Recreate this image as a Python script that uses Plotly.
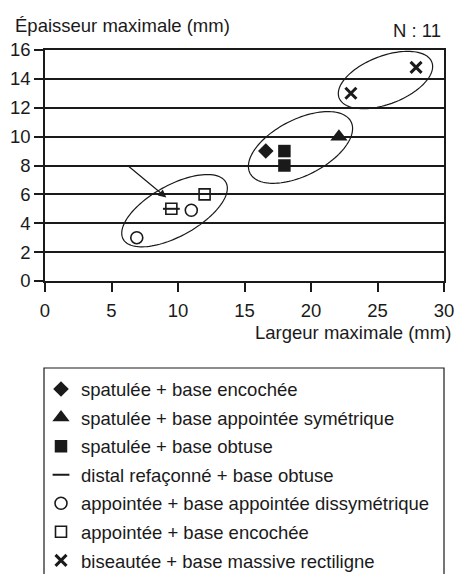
import numpy as np
import plotly.graph_objects as go

# ---- data ----
series_names = [
    "spatulée + base encochée",
    "spatulée + base appointée symétrique",
    "spatulée + base obtuse",
    "distal refaçonné + base obtuse",
    "appointée + base appointée dissymétrique",
    "appointée + base encochée",
    "biseautée + base massive rectiligne",
]
spat_enc_x = [16.6]
spat_enc_y = [9.0]
spat_sym_x = [22.1]
spat_sym_y = [10.0]
spat_obt_x = [18.0, 18.0]
spat_obt_y = [9.0, 8.0]
distal_x = [9.5]
distal_y = [5.0]
app_diss_x = [6.9, 11.0]
app_diss_y = [3.0, 4.9]
app_enc_x = [9.5, 12.0]
app_enc_y = [5.0, 6.0]
bis_x = [23.0, 27.9]
bis_y = [13.0, 14.8]

x_ticks = [0, 5, 10, 15, 20, 25, 30]
y_ticks = [0, 2, 4, 6, 8, 10, 12, 14, 16]

FONT = "Arial, 'Liberation Sans', Helvetica, sans-serif"
FS = 18.5
INK = "#1a1a1a"

W, H = 456, 574
ML, MR, MT, MB = 45, 12, 50, 293
PW, PH = W - ML - MR, H - MT - MB

fig = go.Figure()

def add(name, xs, ys, symbol, size, lw=0):
    marker = dict(symbol=symbol, size=size, color=INK, line=dict(width=lw, color=INK))
    fig.add_trace(go.Scatter(x=xs, y=ys, mode="markers", name=name, marker=marker,
                             legendgroup=name, showlegend=True))

add(series_names[0], spat_enc_x, spat_enc_y, "diamond", 12)
add(series_names[1], spat_sym_x, spat_sym_y, "triangle-up", 15)
add(series_names[2], spat_obt_x, spat_obt_y, "square", 12.5)
add(series_names[3], distal_x, distal_y, "line-ew", 12, lw=2)
add(series_names[4], app_diss_x, app_diss_y, "circle-open", 12, lw=1.6)
add(series_names[5], app_enc_x, app_enc_y, "square-open", 11, lw=1.6)
add(series_names[6], bis_x, bis_y, "x-thin-open", 11, lw=3)

# ---- ellipses drawn around the groups (annotation outlines) ----
PX_PER_X = PW / 30.0
PX_PER_Y = PH / 16.0
ellipses = [
    # center (data), semi-axes in px, tilt in degrees
    ((9.74, 4.87), 58.7, 25.5, 29.0),
    ((19.21, 9.25), 56.7, 28.0, 27.0),
    ((25.6, 13.92), 49.7, 24.0, 21.1),
]
shapes = []
for (cx, cy), a, b, ang in ellipses:
    th = np.radians(ang)
    t = np.linspace(0, 2 * np.pi, 121)
    dx = (a * np.cos(t) * np.cos(th) - b * np.sin(t) * np.sin(th)) / PX_PER_X
    dy = (a * np.cos(t) * np.sin(th) + b * np.sin(t) * np.cos(th)) / PX_PER_Y
    pts = [f"{cx + u:.4f},{cy + v:.4f}" for u, v in zip(dx, dy)]
    path = "M " + " L ".join(pts) + " Z"
    shapes.append(dict(type="path", path=path, xref="x", yref="y",
                       line=dict(color=INK, width=1.2), layer="above"))

# legend frame (open at the bottom edge of the picture)
def px2paper_x(px):
    return (px - ML) / PW

def px2paper_y(py):
    return (H - MB - py) / PH

shapes.append(dict(type="rect", xref="paper", yref="paper",
                   x0=px2paper_x(44), x1=px2paper_x(444),
                   y0=px2paper_y(590), y1=px2paper_y(368),
                   line=dict(color=INK, width=1.2), fillcolor="rgba(0,0,0,0)"))

fig.update_layout(
    width=W, height=H,
    margin=dict(l=ML, r=MR, t=MT, b=MB, autoexpand=False),
    paper_bgcolor="white", plot_bgcolor="white",
    font=dict(family=FONT, size=FS, color=INK),
    shapes=shapes,
    showlegend=True,
    legend=dict(
        x=px2paper_x(41), y=px2paper_y(370.5), xanchor="left", yanchor="top",
        borderwidth=0, bgcolor="rgba(0,0,0,0)",
        font=dict(family=FONT, size=FS, color=INK),
        traceorder="grouped", tracegroupgap=1.5,
        itemclick=False, itemdoubleclick=False,
    ),
    xaxis=dict(
        range=[0, 30], tickvals=x_ticks, ticktext=[str(v) for v in x_ticks],
        showgrid=False, zeroline=False,
        showline=True, linecolor=INK, linewidth=1.5, mirror=True,
        ticks="outside", ticklen=9, tickwidth=1.5, tickcolor=INK,
        ticklabelstandoff=3,
        tickfont=dict(family=FONT, size=FS, color=INK),
    ),
    yaxis=dict(
        range=[0, 16], tickvals=y_ticks, ticktext=[str(v) for v in y_ticks],
        showgrid=True, gridcolor=INK, gridwidth=1.5, zeroline=False,
        showline=True, linecolor=INK, linewidth=1.5, mirror=True,
        ticks="outside", ticklen=9, tickwidth=1.5, tickcolor=INK,
        tickfont=dict(family=FONT, size=FS, color=INK),
    ),
    annotations=[
        dict(text="Épaisseur maximale (mm)", xref="paper", yref="paper",
             x=px2paper_x(13), y=px2paper_y(25), xanchor="left", yanchor="middle",
             showarrow=False, font=dict(family=FONT, size=FS, color=INK)),
        dict(text="N : 11", xref="paper", yref="paper",
             x=px2paper_x(443), y=px2paper_y(30), xanchor="right", yanchor="middle",
             showarrow=False, font=dict(family=FONT, size=FS, color=INK)),
        dict(text="Largeur maximale (mm)", xref="paper", yref="paper",
             x=px2paper_x(453), y=px2paper_y(332), xanchor="right", yanchor="middle",
             showarrow=False, font=dict(family=FONT, size=FS, color=INK)),
        dict(text="", x=9.12, y=5.78, xref="x", yref="y",
             ax=6.17, ay=8.03, axref="x", ayref="y",
             showarrow=True, arrowhead=2, arrowsize=1.3, arrowwidth=1.2,
             arrowcolor=INK),
    ],
)

fig.write_html(
    "out.html",
    config={"displayModeBar": False},
    post_script="document.body.style.margin='0';document.body.style.overflow='hidden';",
)
